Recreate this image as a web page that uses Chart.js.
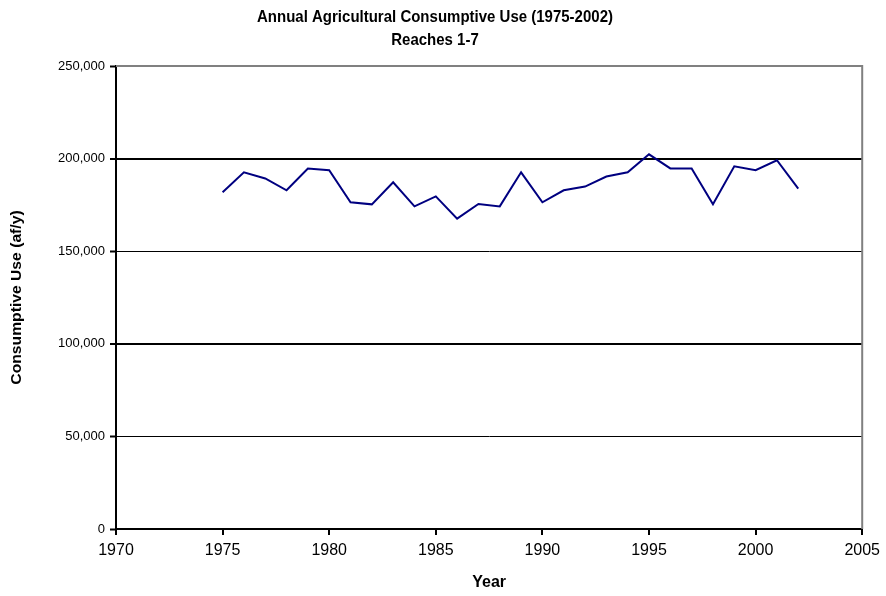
<!DOCTYPE html>
<html>
<head>
<meta charset="utf-8">
<script src="https://cdn.jsdelivr.net/npm/chart.js@4/dist/chart.umd.min.js"></script>
<style>
  html, body { margin: 0; padding: 0; background: #fff; }
  #wrap { width: 886px; height: 596px; }
</style>
</head>
<body>
<div id="wrap"><canvas id="c" width="886" height="596"></canvas></div>
<script>
// Annual agricultural consumptive use, reaches 1-7 (acre-feet per year)
const years = [1975, 1976, 1977, 1978, 1979, 1980, 1981, 1982, 1983, 1984,
               1985, 1986, 1987, 1988, 1989, 1990, 1991, 1992, 1993, 1994,
               1995, 1996, 1997, 1998, 1999, 2000, 2001, 2002];
const consumptiveUse = [181800, 192600, 189300, 182900, 194600, 193700, 176400, 175300, 187200, 174200,
                        179600, 167600, 175500, 174200, 192600, 176400, 182900, 184900, 190300, 192600,
                        202300, 194700, 194700, 175300, 195800, 193700, 199100, 183800];
const titleLines = ['Annual Agricultural Consumptive Use (1975-2002)', 'Reaches 1-7'];
const xAxisTitle = 'Year';
const yAxisTitle = 'Consumptive Use (af/y)';

const FONT = '"Liberation Sans", Arial, Helvetica, sans-serif';

// Title, axis titles and the grey top/right frame of the plot area
const decorations = {
  id: 'decorations',
  afterDraw(chart) {
    const { ctx, chartArea: a } = chart;
    ctx.save();
    ctx.strokeStyle = '#808080';
    ctx.lineWidth = 2;
    ctx.beginPath();
    ctx.moveTo(a.left, a.top);
    ctx.lineTo(a.right, a.top);
    ctx.lineTo(a.right, a.bottom);
    ctx.stroke();
    ctx.restore();

    ctx.save();
    ctx.fillStyle = '#000';
    ctx.textAlign = 'center';
    ctx.textBaseline = 'middle';
    ctx.font = 'bold 15px ' + FONT;
    [[titleLines[0], 17], [titleLines[1], 40]].forEach(([t, y]) => {
      ctx.save();
      ctx.translate(435, y);
      ctx.scale(1, 1.15);
      ctx.fillText(t, 0, 0);
      ctx.restore();
    });

    ctx.font = 'bold 16px ' + FONT;
    ctx.fillText(xAxisTitle, (a.left + a.right) / 2, 583);

    ctx.font = 'bold 14px ' + FONT;
    ctx.translate(17, (a.top + a.bottom) / 2);
    ctx.rotate(-Math.PI / 2);
    ctx.scale(1.12, 1);
    ctx.fillText(yAxisTitle, 0, 0);
    ctx.restore();
  }
};

new Chart(document.getElementById('c'), {
  type: 'line',
  data: {
    datasets: [{
      data: years.map((y, i) => ({ x: y, y: consumptiveUse[i] })),
      borderColor: '#000080',
      borderWidth: 2,
      pointRadius: 0,
      tension: 0,
      fill: false
    }]
  },
  options: {
    responsive: false,
    animation: false,
    layout: { padding: { top: 66, right: 23, left: 0, bottom: 0 } },
    plugins: {
      legend: { display: false },
      title: { display: false },
      tooltip: { enabled: false }
    },
    scales: {
      x: {
        type: 'linear',
        min: 1970,
        max: 2005,
        ticks: {
          stepSize: 5,
          color: '#000',
          padding: 6,
          font: { family: FONT, size: 16 },
          callback: v => String(v)
        },
        grid: { drawOnChartArea: false, drawTicks: true, tickLength: 6, color: '#000', lineWidth: 2 },
        border: { display: true, color: '#000', width: 2 },
        afterFit(scale) { scale.height = 67; }
      },
      y: {
        min: 0,
        max: 250000,
        ticks: {
          stepSize: 50000,
          color: '#000',
          padding: 5,
          font: { family: FONT, size: 13 },
          callback: v => v.toLocaleString('en-US')
        },
        grid: {
          drawOnChartArea: true,
          drawTicks: true,
          tickLength: 6,
          color: ctx => (ctx.tick && ctx.tick.value === 250000) ? 'rgba(0,0,0,0)' : '#000',
          lineWidth: ctx => (ctx.tick && (ctx.tick.value === 100000 || ctx.tick.value === 200000)) ? 2 : 1,
          tickColor: '#000',
          tickWidth: 2
        },
        border: { display: true, color: '#000', width: 2 },
        afterFit(scale) { scale.width = 116; }
      }
    }
  },
  plugins: [decorations]
});
</script>
</body>
</html>
